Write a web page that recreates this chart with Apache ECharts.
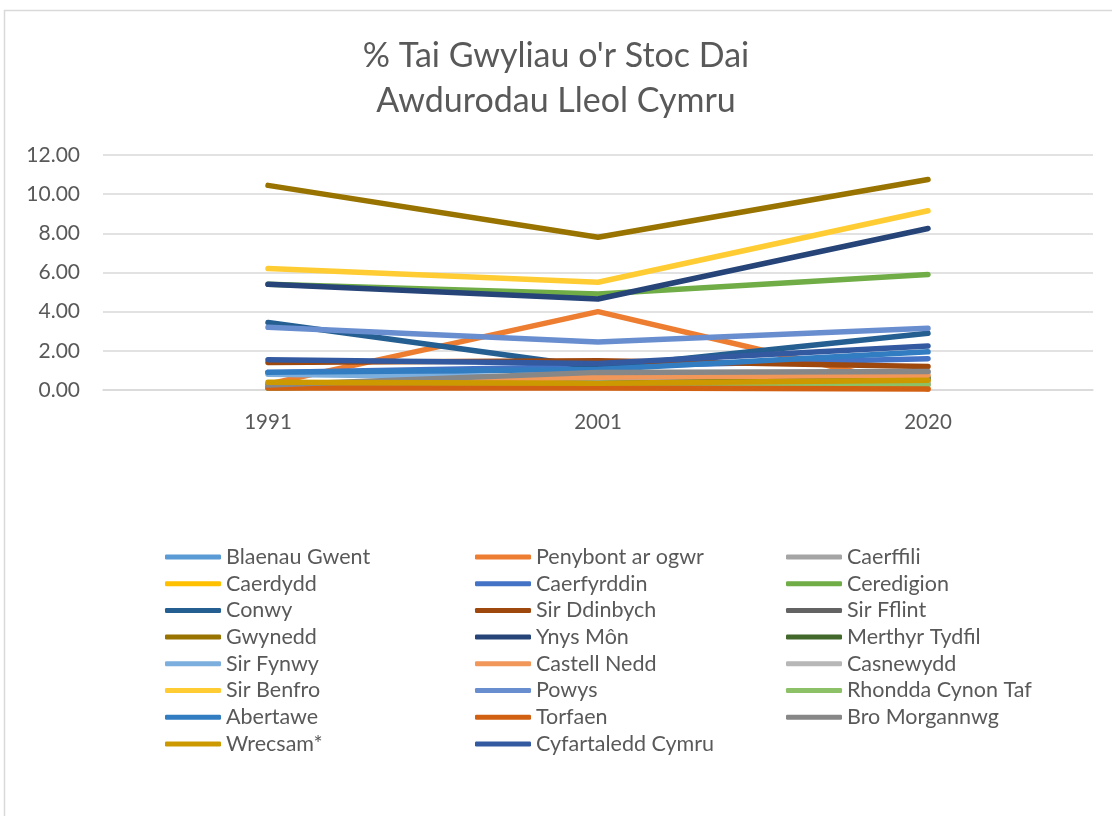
<!DOCTYPE html>
<html>
<head>
<meta charset="utf-8">
<script src="https://cdn.jsdelivr.net/npm/echarts@6/dist/echarts.min.js"></script>
<style>
html,body{margin:0;padding:0;background:#fff;}
#chart{width:1112px;height:816px;}
</style>
</head>
<body>
<div id="chart"></div>
<script>
// Categories (years)
const years = ['1991', '2001', '2020'];

// Series names (Excel order)
const names = [
  'Blaenau Gwent', 'Penybont ar ogwr', 'Caerffili', 'Caerdydd', 'Caerfyrddin',
  'Ceredigion', 'Conwy', 'Sir Ddinbych', 'Sir Fflint', 'Gwynedd', 'Ynys Môn',
  'Merthyr Tydfil', 'Sir Fynwy', 'Castell Nedd', 'Casnewydd', 'Sir Benfro',
  'Powys', 'Rhondda Cynon Taf', 'Abertawe', 'Torfaen', 'Bro Morgannwg',
  'Wrecsam*', 'Cyfartaledd Cymru'
];

// Values per series: [1991, 2001, 2020]
const blaenauGwent   = [0.90, 0.60, 0.35];
const penybont       = [0.30, 4.00, 0.05];
const caerffili      = [0.20, 0.40, 0.30];
const caerdydd       = [0.30, 0.35, 0.45];
const caerfyrddin    = [0.90, 1.20, 1.60];
const ceredigion     = [5.40, 4.90, 5.90];
const conwy          = [3.45, 1.15, 2.90];
const sirDdinbych    = [1.40, 1.50, 1.20];
const sirFflint      = [0.20, 0.50, 0.55];
const gwynedd        = [10.45, 7.80, 10.75];
const ynysMon        = [5.40, 4.65, 8.25];
const merthyr        = [0.10, 0.45, 0.65];
const sirFynwy       = [0.80, 0.60, 0.90];
const castellNedd    = [0.30, 0.65, 0.75];
const casnewydd      = [0.20, 0.30, 0.40];
const sirBenfro      = [6.20, 5.50, 9.15];
const powys          = [3.20, 2.45, 3.15];
const rhondda        = [0.10, 0.30, 0.25];
const abertawe       = [0.90, 1.05, 1.95];
const torfaen        = [0.10, 0.10, 0.05];
const broMorgannwg   = [0.25, 0.90, 0.95];
const wrecsam        = [0.40, 0.35, 0.50];
const cyfartaledd    = [1.55, 1.35, 2.25];

const values = [
  blaenauGwent, penybont, caerffili, caerdydd, caerfyrddin, ceredigion, conwy,
  sirDdinbych, sirFflint, gwynedd, ynysMon, merthyr, sirFynwy, castellNedd,
  casnewydd, sirBenfro, powys, rhondda, abertawe, torfaen, broMorgannwg,
  wrecsam, cyfartaledd
];

const colors = [
  '#5B9BD5', '#ED7D31', '#A5A5A5', '#FFC000', '#4472C4', '#70AD47', '#255E91',
  '#9E480E', '#636363', '#997300', '#264478', '#43682B', '#7CAFDD', '#F1975A',
  '#B7B7B7', '#FFCD33', '#698ED0', '#8CC168', '#327DC2', '#D26012', '#878787',
  '#CC9A00', '#335AA1'
];

// Y tick labels
const yMin = 0, yMax = 12, yStep = 2;

// Legend columns
const legendCol1 = ['Blaenau Gwent', 'Caerdydd', 'Conwy', 'Gwynedd', 'Sir Fynwy', 'Sir Benfro', 'Abertawe', 'Wrecsam*'];
const legendCol2 = ['Penybont ar ogwr', 'Caerfyrddin', 'Sir Ddinbych', 'Ynys Môn', 'Castell Nedd', 'Powys', 'Torfaen', 'Cyfartaledd Cymru'];
const legendCol3 = ['Caerffili', 'Ceredigion', 'Sir Fflint', 'Merthyr Tydfil', 'Casnewydd', 'Rhondda Cynon Taf', 'Bro Morgannwg'];

const FONT = 'Lato';
const TXT = '#595959';

function legendAt(left, data) {
  return {
    data: data,
    orient: 'vertical',
    left: left,
    top: 541,
    icon: 'roundRect',
    itemWidth: 56,
    itemHeight: 5,
    itemGap: 4.7,
    textStyle: { color: TXT, fontFamily: FONT, fontSize: 21.5, lineHeight: 20 },
    selectedMode: false
  };
}

const chart = echarts.init(document.getElementById('chart'));
chart.setOption({
  animation: false,
  backgroundColor: '#fff',
  color: colors,
  title: {
    text: '% Tai Gwyliau o\'r Stoc Dai\nAwdurodau Lleol Cymru',
    left: 'center',
    top: 29,
    textStyle: { color: TXT, fontFamily: FONT, fontSize: 34, fontWeight: 'normal', lineHeight: 45 }
  },
  graphic: [{
    type: 'rect',
    shape: { x: 4.5, y: 10.5, width: 1200, height: 900 },
    style: { fill: 'none', stroke: '#d9d9d9', lineWidth: 1.5 },
    silent: true
  }],
  legend: [legendAt(160, legendCol1), legendAt(470, legendCol2), legendAt(781, legendCol3)],
  grid: { left: 103, right: 19, top: 155, bottom: 426, containLabel: false },
  xAxis: {
    type: 'category',
    data: years,
    boundaryGap: true,
    axisLine: { show: true, lineStyle: { color: '#d9d9d9', width: 1.5 } },
    axisTick: { show: false },
    axisLabel: { color: TXT, fontFamily: FONT, fontSize: 20.5, margin: 22 }
  },
  yAxis: {
    type: 'value',
    min: yMin, max: yMax, interval: yStep,
    axisLine: { show: false },
    axisTick: { show: false },
    splitLine: { lineStyle: { color: '#d9d9d9', width: 1.5 } },
    axisLabel: {
      color: TXT, fontFamily: FONT, fontSize: 21, margin: 23,
      formatter: v => v.toFixed(2)
    }
  },
  series: names.map((n, i) => ({
    name: n,
    type: 'line',
    data: values[i],
    symbol: 'none',
    lineStyle: { width: 5.5, cap: 'round', join: 'round', color: colors[i] },
    itemStyle: { color: colors[i] },
    z: 2 + i * 0.01
  }))
});
</script>
</body>
</html>
